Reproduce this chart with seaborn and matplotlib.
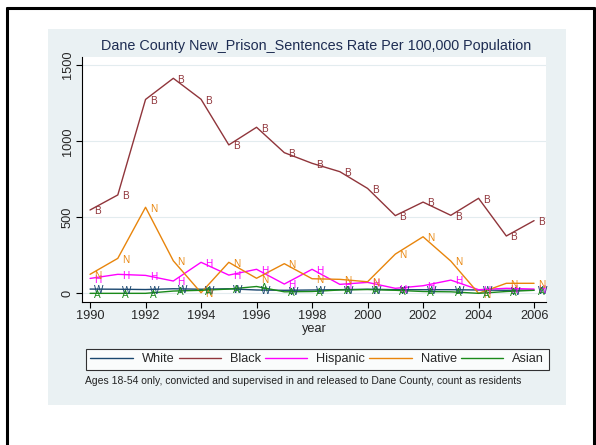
import matplotlib
matplotlib.use("Agg")
import matplotlib.pyplot as plt
import seaborn as sns
import pandas as pd
from matplotlib.lines import Line2D
from matplotlib.patches import Rectangle

years = list(range(1990, 2007))
white = [28, 27, 25, 30, 27, 30, 22, 20, 22, 24, 27, 24, 24, 24, 22, 20, 22]
black = [548, 647, 1275, 1414, 1276, 976, 1092, 925, 855, 800, 690, 511, 600, 513, 625, 377, 478]
hispanic = [98, 125, 118, 81, 204, 120, 158, 61, 158, 59, 72, 33, 50, 87, 24, 33, 28]
native = [125, 230, 566, 214, 4, 204, 99, 195, 96, 92, 76, 258, 372, 212, 0, 66, 66]
asian = [0, 0, 0, 15, 20, 28, 45, 10, 12, 22, 25, 20, 12, 10, 0, 12, 20]

series_names = ["White", "Black", "Hispanic", "Native", "Asian"]
series_vals = [white, black, hispanic, native, asian]
letters = ["W", "B", "H", "N", "A"]
colors = {"White": "#1a476f", "Black": "#90353b", "Hispanic": "#ff00ff",
          "Native": "#e8850c", "Asian": "#1a8a1a"}

title = "Dane County New_Prison_Sentences Rate Per 100,000 Population"
note = "Ages 18-54 only, convicted and supervised in and released to Dane County, count as residents"
yticks = [0, 500, 1000, 1500]
xticks = list(range(1990, 2007, 2))

rows = []
for name, vals in zip(series_names, series_vals):
    for y, v in zip(years, vals):
        rows.append({"year": y, "rate": v, "race": name})
df = pd.DataFrame(rows)

sns.set_style("white")
plt.rcParams["font.family"] = ["Liberation Sans", "DejaVu Sans"]

W, H = 596, 445
fig = plt.figure(figsize=(W / 100, H / 100), dpi=100)
fig.patch.set_facecolor("white")

# graph region (light bluish gray)
bg = Rectangle((48 / W, 1 - 404.7 / H), 518 / W, (404.7 - 28.5) / H,
               transform=fig.transFigure, facecolor="#eaf1f3", edgecolor="none", zorder=-10)
fig.add_artist(bg)

# outer black frame (left, top, right)
lw = 2.2
fig.add_artist(Line2D([7 / W, 7 / W], [0, 1 - 8 / H], transform=fig.transFigure, color="black", lw=lw))
fig.add_artist(Line2D([7 / W, 594 / W], [1 - 8 / H, 1 - 8 / H], transform=fig.transFigure, color="black", lw=lw))
fig.add_artist(Line2D([594 / W, 594 / W], [0, 1 - 8 / H], transform=fig.transFigure, color="black", lw=lw))

ax = fig.add_axes([82 / W, 1 - 301.7 / H, 464 / W, 245 / H])
ax.set_zorder(5)
ax.set_facecolor("white")

sns.lineplot(data=df, x="year", y="rate", hue="race", palette=colors,
             hue_order=series_names, ax=ax, legend=False, linewidth=1.0,
             estimator=None, sort=False)

for name, vals, let in zip(series_names, series_vals, letters):
    for x, v in zip(years, vals):
        ax.annotate(let, (x, v), xytext=(3, -1), textcoords="offset points",
                    ha="left", va="center", fontsize=7.2, color=colors[name])

ax.set_xlim(1989.71, 2006.43)
ax.set_ylim(-55, 1556)
ax.set_yticks(yticks)
ax.set_xticks(xticks)
ax.set_yticklabels([str(t) for t in yticks], rotation=90, va="center", fontsize=9.2)
ax.set_xticklabels([str(t) for t in xticks], fontsize=9.2)
ax.tick_params(axis="both", direction="out", length=4, width=0.8, color="black",
               left=True, bottom=True, pad=2)
ax.grid(axis="y", color="#e3ecef", linewidth=0.8)
ax.grid(axis="x", visible=False)
ax.set_axisbelow(True)
for s in ["top", "right"]:
    ax.spines[s].set_visible(False)
for s in ["left", "bottom"]:
    ax.spines[s].set_color("black")
    ax.spines[s].set_linewidth(0.8)
ax.set_xlabel("year", fontsize=9.2, labelpad=1)
ax.set_ylabel("")

fig.text(316 / W, 1 - 46 / H, title, ha="center", va="center", fontsize=10.35, color="#1e2d53")

handles = [Line2D([0], [0], color=colors[n], lw=1.0) for n in series_names]
leg = fig.legend(handles, series_names, loc="lower left",
                 bbox_to_anchor=(86 / W, 1 - 369.5 / H, 462.5 / W, 25.5 / H),
                 mode="expand", ncol=5, fontsize=9.2, frameon=True, fancybox=False,
                 borderaxespad=0, handlelength=3.3, handletextpad=0.7, columnspacing=0.6,
                 borderpad=0.35)
leg.get_frame().set_edgecolor("black")
leg.get_frame().set_linewidth(0.8)
leg.get_frame().set_facecolor("white")

fig.text(85 / W, 1 - 381 / H, note, ha="left", va="center", fontsize=7.45, color="#222222")

fig.savefig("out.png", dpi=100)
